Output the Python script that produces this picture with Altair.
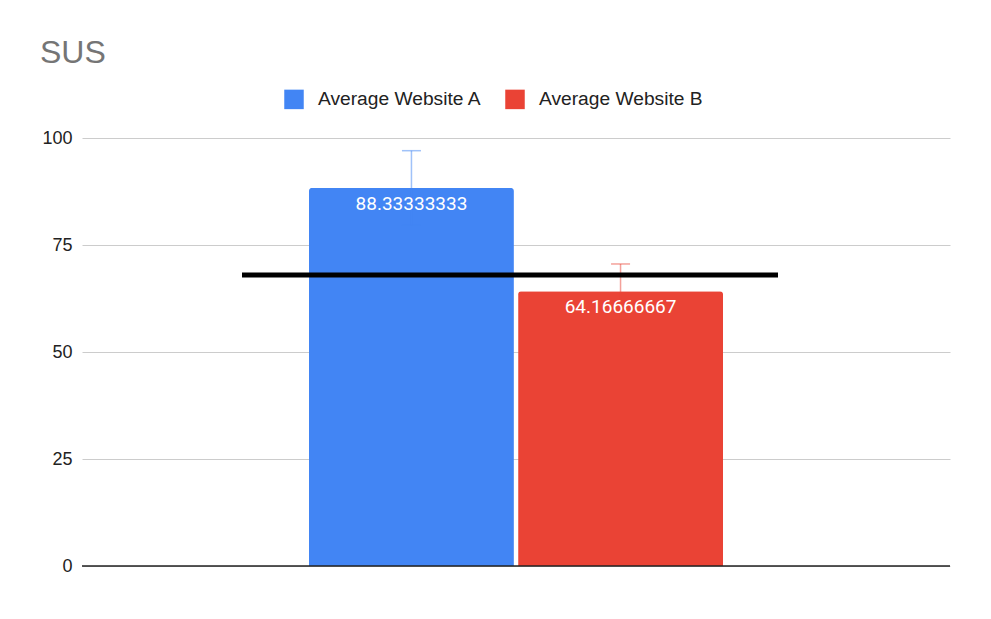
import altair as alt
import pandas as pd

# ---- data ----
categories = ["SUS", "SUS"]
series = ["Average Website A", "Average Website B"]
values = [88.33333333, 64.16666667]
labels = ["88.33333333", "64.16666667"]
errors = [8.7, 6.4]
benchmark = [68]

colors = ["#4285F4", "#EA4335"]

df = pd.DataFrame({
    "cat": categories,
    "series": series,
    "value": values,
    "label": labels,
    "lo": [v - e for v, e in zip(values, errors)],
    "hi": [v + e for v, e in zip(values, errors)],
})
bench_df = pd.DataFrame({"cat": ["SUS"], "bench": benchmark})

FONT = "Liberation Sans"

x_enc = alt.X("cat:N", axis=None,
              scale=alt.Scale(paddingOuter=0.5483, paddingInner=0))
xo_enc = alt.XOffset("series:N", scale=alt.Scale(paddingInner=0.02, paddingOuter=0))
y_scale = alt.Scale(domain=[0, 100], nice=False)

color_enc = alt.Color(
    "series:N",
    scale=alt.Scale(domain=series, range=colors),
    legend=alt.Legend(
        title=None, orient="none", direction="horizontal",
        legendX=202, legendY=-49,
        symbolType="square", symbolSize=380, symbolStrokeWidth=0,
        labelFont=FONT, labelFontSize=19.2, labelColor="#222222", labelLimit=400,
        labelOffset=14, columnPadding=23, padding=0,
    ),
)

bars = alt.Chart(df).mark_bar(cornerRadiusTopLeft=3, cornerRadiusTopRight=3).encode(
    x=x_enc,
    xOffset=xo_enc,
    y=alt.Y("value:Q", scale=y_scale,
            axis=alt.Axis(values=[0, 25, 50, 75, 100], title=None, domain=False,
                          ticks=False, gridColor="#cccccc", gridWidth=1,
                          labelFont=FONT, labelFontSize=18, labelColor="#222222",
                          labelPadding=10)),
    color=color_enc,
)

err_color = alt.Color("series:N", scale=alt.Scale(domain=series, range=colors), legend=None)

err_rule = alt.Chart(df).mark_rule(strokeWidth=1.5, opacity=0.5).encode(
    x=x_enc, xOffset=xo_enc,
    y=alt.Y("lo:Q", scale=y_scale), y2="hi:Q",
    color=err_color,
)
err_lo = alt.Chart(df).mark_tick(size=19, thickness=1.5, opacity=0.5).encode(
    x=x_enc, xOffset=xo_enc,
    y=alt.Y("lo:Q", scale=y_scale),
    color=err_color,
)
err_hi = alt.Chart(df).mark_tick(size=19, thickness=1.5, opacity=0.5).encode(
    x=x_enc, xOffset=xo_enc,
    y=alt.Y("hi:Q", scale=y_scale),
    color=err_color,
)

text = alt.Chart(df).mark_text(color="white", font="Roboto", fontSize=19,
                               baseline="middle", dy=16).encode(
    x=x_enc, xOffset=xo_enc,
    y=alt.Y("value:Q", scale=y_scale),
    text="label:N",
)

bench = alt.Chart(bench_df).mark_tick(size=536, thickness=5, color="black",
                                      opacity=1, xOffset=-6).encode(
    x=x_enc,
    y=alt.Y("bench:Q", scale=y_scale),
)

zero = alt.Chart(bench_df).mark_rule(color="#222222", strokeWidth=1.5).encode(
    y=alt.datum(0, scale=y_scale)
)

chart = alt.layer(bars, err_rule, err_lo, err_hi, zero, bench, text).properties(
    width=868, height=428,
    title=alt.TitleParams("SUS", anchor="start", font=FONT, fontSize=32,
                          fontWeight="normal", color="#757575", dx=-2, offset=19),
    autosize=alt.AutoSizeParams(type="none"),
    padding={"left": 82, "top": 138, "right": 41, "bottom": 53},
    background="white",
).configure_view(stroke=None)

chart.save("out.html", embed_options={"renderer": "svg", "actions": False})
